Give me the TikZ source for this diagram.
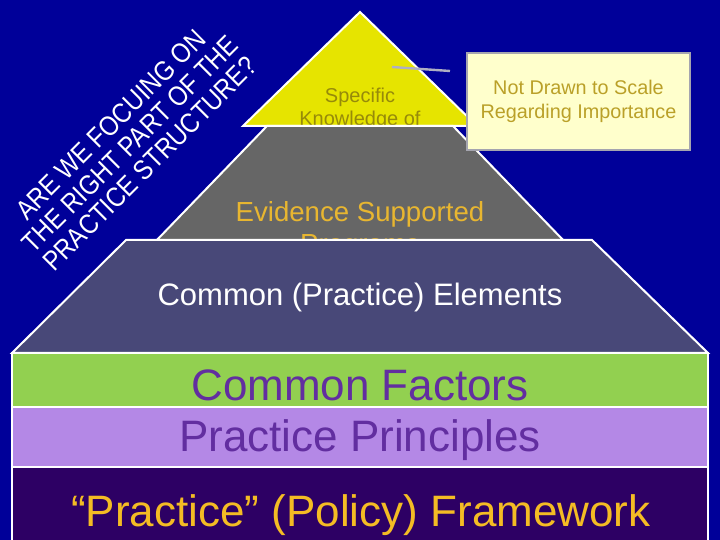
\documentclass[tikz,border=0pt]{standalone}
\usepackage{graphicx}
\usepackage{fontspec}
\setmainfont{Liberation Sans}
\definecolor{slidebg}{RGB}{0,0,153}
\definecolor{tipyellow}{RGB}{230,228,0}
\definecolor{tipolive}{RGB}{150,138,10}
\definecolor{midgray}{RGB}{102,102,102}
\definecolor{evgold}{RGB}{232,182,48}
\definecolor{slate}{RGB}{72,72,120}
\definecolor{cfgreen}{RGB}{146,208,80}
\definecolor{pplilac}{RGB}{180,136,230}
\definecolor{ppviolet}{RGB}{98,46,160}
\definecolor{fwdark}{RGB}{45,0,100}
\definecolor{fwgold}{RGB}{244,188,36}
\definecolor{notefill}{RGB}{255,255,204}
\definecolor{notedraw}{RGB}{165,165,175}
\definecolor{notetext}{RGB}{186,160,40}
\definecolor{pointergray}{RGB}{175,175,195}
\begin{document}
\begin{tikzpicture}[x=0.5pt,y=0.5pt,
    layer/.style={draw=white,line width=1pt},
    bigtext/.style={font=\fontsize{22}{26}\selectfont}]
  \useasboundingbox (0,0) rectangle (720,540);
  \fill[slidebg] (0,0) rectangle (720,540);
  % the question along the left slope
  \node[rotate=45,white,font=\fontsize{12}{12}\selectfont] (question) at (133,393)
    {\scalebox{1}[1.15]{\begin{tabular}{@{}c@{}}ARE WE FOCUING ON\\THE RIGHT PART OF THE\\PRACTICE STRUCTURE?\end{tabular}}};
  % top of the pyramid
  \fill[tipyellow,layer] (360,528) -- (477,414) -- (243,414) -- cycle;
  \node[align=center,tipolive,font=\fontsize{10}{11.5}\selectfont] (specific) at (360,431)
    {Specific\\Knowledge of};
  \fill[midgray,layer] (267,414) -- (453,414) -- (565,298) -- (155,298) -- cycle;
  \node[align=center,evgold,font=\fontsize{13.8}{16}\selectfont] (evidence) at (360,310)
    {Evidence Supported\\Programs};
  \fill[slate,layer] (126,300) -- (592,300) -- (708,187) -- (12,187) -- cycle;
  \node[white,font=\fontsize{15.5}{18}\selectfont] (elements) at (360,243)
    {Common (Practice) Elements};
  % the bands at the base
  \fill[cfgreen,layer] (12,133) rectangle (708,187);
  \node[ppviolet,bigtext] (factors) at (360,155) {Common Factors};
  \fill[pplilac,layer] (12,73) rectangle (708,133);
  \node[ppviolet,bigtext] (principles) at (360,100) {Practice Principles};
  \fill[fwdark,layer] (12,-5) rectangle (708,73);
  \node[fwgold,bigtext] (framework) at (361,25) {``Practice'' (Policy) Framework};
  % note box
  \node[draw=notedraw,line width=1pt,fill=notefill,
    minimum width=111.5pt,minimum height=48.5pt,align=center,text=notetext,
    font=\fontsize{9.9}{12}\selectfont] (note) at (578.5,438.5)
    {Not Drawn to Scale\\Regarding Importance};
  \coordinate (pointerA) at (392,473);
  \coordinate (pointerB) at (450,469);
  \draw[pointergray,line width=1.2pt] (pointerA) -- (pointerB);
\end{tikzpicture}
\end{document}
